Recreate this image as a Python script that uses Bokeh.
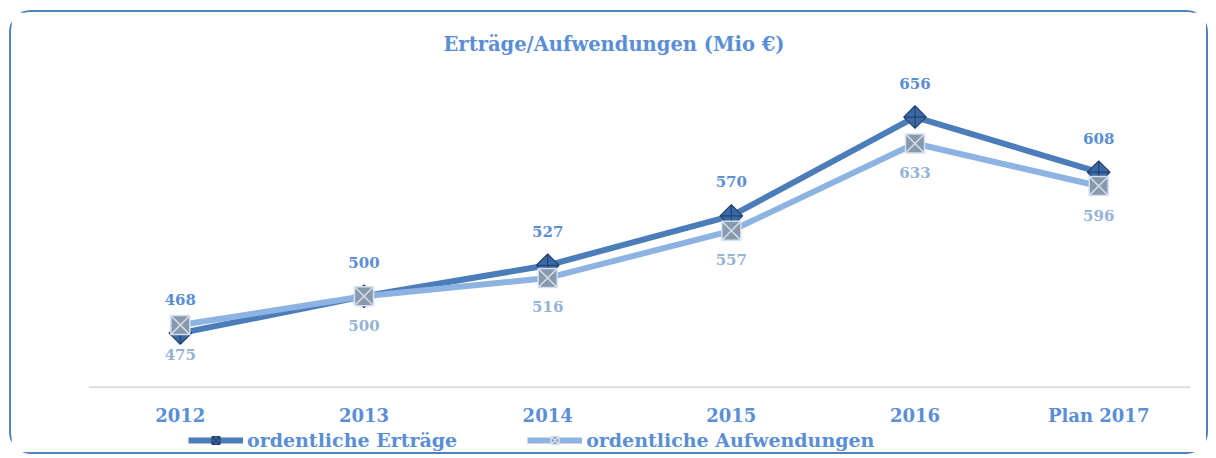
import math
from bokeh.plotting import figure
from bokeh.models import ColumnDataSource, Range1d, Legend, LegendItem, Span
from bokeh.core.properties import value
from bokeh.embed import file_html
from bokeh.resources import INLINE

categories = ["2012", "2013", "2014", "2015", "2016", "Plan 2017"]
ertraege = [468, 500, 527, 570, 656, 608]
aufwendungen = [475, 500, 516, 557, 633, 596]
name_ertraege = "ordentliche Erträge"
name_aufwendungen = "ordentliche Aufwendungen"
title_text = "Erträge/Aufwendungen  (Mio €)"
axis_base = 421

FONT = "DejaVu Serif"
BLUE_TXT = "#5A8ED6"
DARK = "#4A7DBA"
LIGHT = "#8DB3E2"

src = ColumnDataSource(dict(
    x=categories, e=ertraege, a=aufwendungen,
    el=[str(v) for v in ertraege], al=[str(v) for v in aufwendungen],
    base=[axis_base] * len(categories),
))

p = figure(width=1199, height=444, x_range=categories, y_range=Range1d(360.6, 700),
           output_backend="svg", toolbar_location=None,
           x_axis_location=None, y_axis_location=None,
           min_border_left=77, min_border_right=20, min_border_top=54,
           min_border_bottom=0)
p.styles = {"border": "2px solid #4F81BD", "border-radius": "22px",
            "margin": "10px 0px 0px 9px"}
p.outline_line_color = None
p.grid.visible = False

p.title.text = title_text
p.title.align = "left"
p.title.offset = 355
p.title.text_font = FONT
p.title.text_font_size = "19.5px"
p.title.text_color = BLUE_TXT
p.title.text_font_style = "bold"
p.title.standoff = 22

# category axis: baseline and labels
p.add_layout(Span(location=axis_base, dimension="width", line_color="#BFBFBF", line_width=1))
p.text("x", "base", text="x", source=src, text_font=value(FONT), text_font_size="18px",
       text_font_style="bold", text_color=BLUE_TXT, text_align="center",
       text_baseline="middle", y_offset=28)

l1 = p.line("x", "e", source=src, line_color=DARK, line_width=6)
m1 = p.scatter("x", "e", source=src, marker="square_x", size=16, angle=math.pi / 4,
               fill_color="#3B69A5", line_color="#24436C", line_width=1.2)
l2 = p.line("x", "a", source=src, line_color=LIGHT, line_width=6)
m2 = p.scatter("x", "a", source=src, marker="square_x", size=19,
               fill_color="#8A98AB", line_color="#D3E0F1", line_width=1.5)

p.text("x", "e", text="el", source=src, text_font=value(FONT), text_font_size="15px",
       text_font_style="bold", text_color=BLUE_TXT, text_align="center",
       text_baseline="middle", y_offset=-34)
p.text("x", "a", text="al", source=src, text_font=value(FONT), text_font_size="15px",
       text_font_style="bold", text_color="#95B3D7", text_align="center",
       text_baseline="middle", y_offset=29)

legend = Legend(items=[LegendItem(label=name_ertraege, renderers=[l1, m1]),
                       LegendItem(label=name_aufwendungen, renderers=[l2, m2])],
                orientation="horizontal", location=(100, 5),
                label_text_font=FONT, label_text_font_size="19px",
                label_text_font_style="bold", label_text_color=BLUE_TXT,
                glyph_width=55, glyph_height=20, spacing=70, padding=0,
                border_line_color=None, background_fill_alpha=0, margin=0,
                label_standoff=4)
p.add_layout(legend, "center")

open("out.html", "w").write(file_html(p, INLINE))
